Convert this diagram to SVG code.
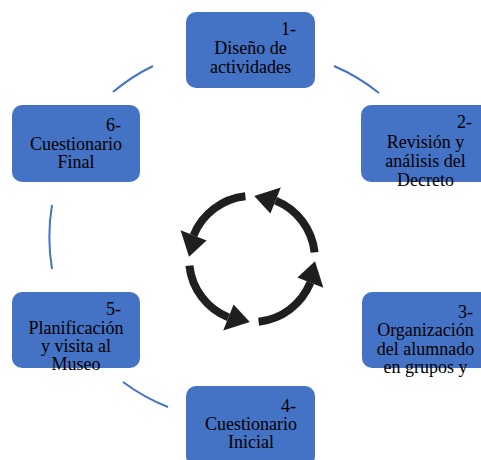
<svg xmlns="http://www.w3.org/2000/svg" width="481" height="460" viewBox="0 0 481 460">
<style>
.box{fill:#4472C4}
.t{font-family:"Liberation Serif","Times New Roman",serif;font-size:18px;fill:#000}
.c{text-anchor:middle}
.r{text-anchor:end}
.arc{fill:none;stroke:#4472C4;stroke-width:2}
.cyc{fill:none;stroke:#1f1f1f;stroke-width:8}
.head{fill:#1f1f1f}
</style>
<rect width="481" height="460" fill="#fff"/>
<g id="connectors">
<path class="arc" d="M113 92 A195 195 0 0 1 153 66"/>
<path class="arc" d="M334 66 A195 195 0 0 1 379 93"/>
<path class="arc" d="M52 269 A195 195 0 0 1 52 205"/>
<path class="arc" d="M168 407 A195 195 0 0 1 123 382"/>
</g>
<g id="cycle">
<path class="cyc" d="M245.4 196.3 A63 63 0 0 0 193.6 235.4"/>
<polygon class="head" points="180.6,230.2 206.6,240.6 189,256.8"/>
<path class="cyc" d="M189.4 265.6 A63 63 0 0 0 228.4 317.4"/>
<polygon class="head" points="223.2,330.4 233.6,304.4 249.8,322"/>
<path class="cyc" d="M258.6 321.7 A63 63 0 0 0 310.4 282.6"/>
<polygon class="head" points="323.4,287.8 297.4,277.4 315,261.2"/>
<path class="cyc" d="M314.6 252.4 A63 63 0 0 0 275.6 200.6"/>
<polygon class="head" points="280.8,187.6 270.4,213.6 254.2,196"/>
</g>
<g id="node1">
<rect class="box" x="186" y="12" width="129" height="76" rx="10"/>
<text class="t r" x="296" y="35">1-</text>
<text class="t c" x="250.5" y="54">Diseño de</text>
<text class="t c" x="250.5" y="73">actividades</text>
</g>
<g id="node2">
<rect class="box" x="361" y="105" width="129" height="77" rx="10"/>
<text class="t r" x="472" y="128">2-</text>
<text class="t c" x="425.5" y="148">Revisión y</text>
<text class="t c" x="425.5" y="167">análisis del</text>
<text class="t c" x="425.5" y="186">Decreto</text>
</g>
<g id="node3">
<rect class="box" x="362" y="292" width="129" height="76" rx="10"/>
<text class="t r" x="473" y="318">3-</text>
<text class="t c" x="425.5" y="336">Organización</text>
<text class="t c" x="425.5" y="355">del alumnado</text>
<text class="t c" x="425.5" y="373">en grupos y</text>
</g>
<g id="node4">
<rect class="box" x="186" y="386" width="129" height="80" rx="10"/>
<text class="t r" x="296" y="412">4-</text>
<text class="t c" x="251" y="430">Cuestionario</text>
<text class="t c" x="251" y="448">Inicial</text>
</g>
<g id="node5">
<rect class="box" x="12" y="292" width="128" height="76" rx="10"/>
<text class="t r" x="121" y="315">5-</text>
<text class="t c" x="76" y="334">Planificación</text>
<text class="t c" x="76" y="352">y visita al</text>
<text class="t c" x="76" y="370">Museo</text>
</g>
<g id="node6">
<rect class="box" x="12" y="105" width="128" height="77" rx="10"/>
<text class="t r" x="121" y="131">6-</text>
<text class="t c" x="76" y="150">Cuestionario</text>
<text class="t c" x="76" y="168">Final</text>
</g>
</svg>
